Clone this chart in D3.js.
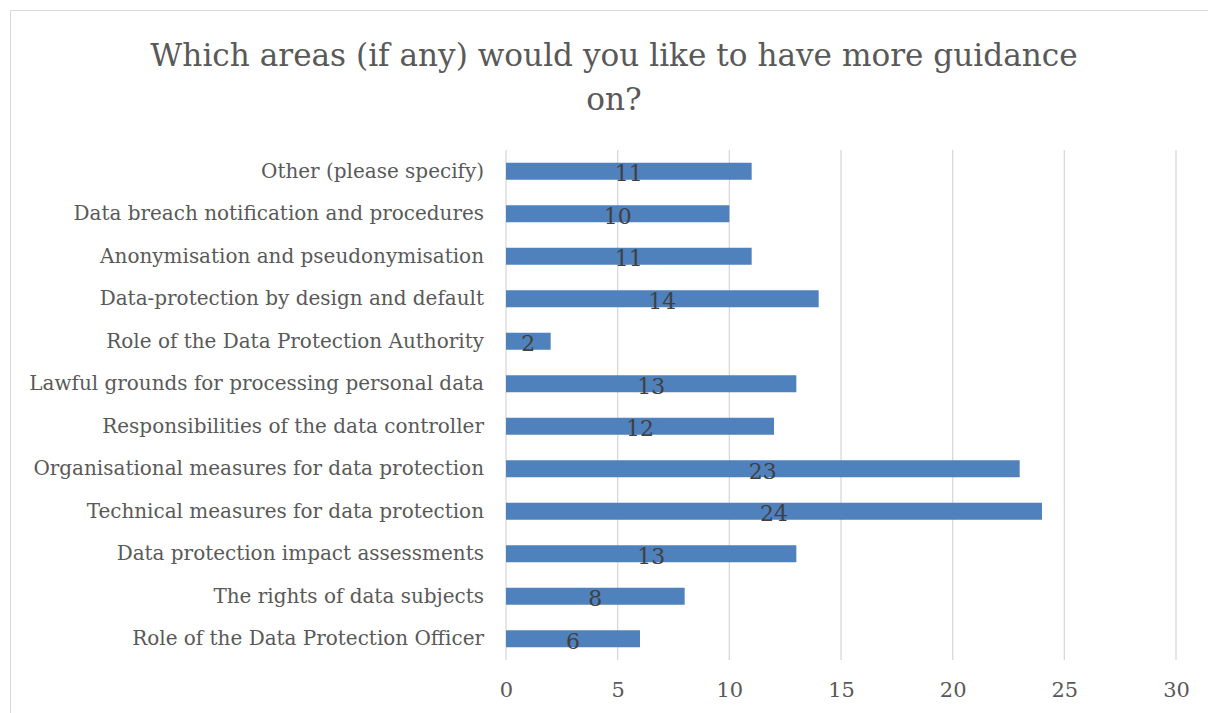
<!DOCTYPE html>
<html><head><meta charset="utf-8">
<script src="https://cdn.jsdelivr.net/npm/d3@7"></script>
<style>body{margin:0;background:#fff}svg{display:block}</style>
</head><body>
<svg id="c" width="1208" height="713"></svg>
<script>
const categories = [
  "Other (please specify)",
  "Data breach notification and procedures",
  "Anonymisation and pseudonymisation",
  "Data-protection by design and default",
  "Role of the Data Protection Authority",
  "Lawful grounds for processing personal data",
  "Responsibilities of the data controller",
  "Organisational measures for data protection",
  "Technical measures for data protection",
  "Data protection impact assessments",
  "The rights of data subjects",
  "Role of the Data Protection Officer"
];
const values = [11, 10, 11, 14, 2, 13, 12, 23, 24, 13, 8, 6];
const xTicks = [0, 5, 10, 15, 20, 25, 30];
const titleLines = ["Which areas (if any) would you like to have more guidance", "on?"];

(function () {
const svg = d3.select("#c");
const font = "'DejaVu Serif', serif";
const W = 1208, H = 713;
const pl = 506, pr = 1176, pt = 150, pb = 660;

// fit font sizes to the reference text widths
function fitSize(str, target) {
  const t = svg.append("text").attr("font-family", font).attr("font-size", 20).text(str);
  const w = t.node().getComputedTextLength();
  t.remove();
  return 20 * target / w;
}
const labelSize = fitSize("Lawful grounds for processing personal data", 455);
const titleSize = fitSize(titleLines[0], 928);

svg.append("rect").attr("x", 10.5).attr("y", 10.5).attr("width", W).attr("height", H)
  .attr("fill", "#fff").attr("stroke", "#d9d9d9").attr("stroke-width", 1);

const x = d3.scaleLinear().domain([0, 30]).range([pl, pr]);
const y = d3.scaleBand().domain(categories).range([pt, pb]).paddingInner(0.6).paddingOuter(0.3);

svg.append("g").selectAll("line").data(xTicks).join("line")
  .attr("x1", d => x(d)).attr("x2", d => x(d)).attr("y1", pt).attr("y2", pb)
  .attr("stroke", "#d9d9d9").attr("stroke-width", 1.3);

const xAxis = d3.axisBottom(x).tickValues(xTicks).tickSize(0).tickPadding(0);
const gx = svg.append("g").attr("transform", `translate(0,${pb})`).call(xAxis);
gx.select(".domain").remove();
gx.selectAll("text").attr("font-family", font).attr("font-size", labelSize * 1.05).attr("fill", "#595959").attr("dy", "1.75em");

const yAxis = d3.axisLeft(y).tickSize(0).tickPadding(22);
const gy = svg.append("g").attr("transform", `translate(${pl},0)`).call(yAxis);
gy.select(".domain").remove();
gy.selectAll("text").attr("font-family", font).attr("font-size", labelSize).attr("fill", "#595959");

svg.append("g").selectAll("rect").data(values).join("rect")
  .attr("x", x(0)).attr("y", (d, i) => y(categories[i]))
  .attr("width", d => x(d) - x(0)).attr("height", y.bandwidth())
  .attr("fill", "#4F81BD");

svg.append("g").selectAll("text").data(values).join("text")
  .attr("x", d => (x(0) + x(d)) / 2).attr("y", (d, i) => y(categories[i]) + y.bandwidth() / 2)
  .attr("dy", "0.45em").attr("text-anchor", "middle")
  .attr("font-family", font).attr("font-size", labelSize * 1.1).attr("fill", "#404040")
  .text(d => d);

svg.append("g").selectAll("text").data(titleLines).join("text")
  .attr("x", 614).attr("y", (d, i) => 66 + i * 44).attr("text-anchor", "middle")
  .attr("font-family", font).attr("font-size", titleSize).attr("fill", "#595959")
  .text(d => d);
})();
</script>
</body></html>
